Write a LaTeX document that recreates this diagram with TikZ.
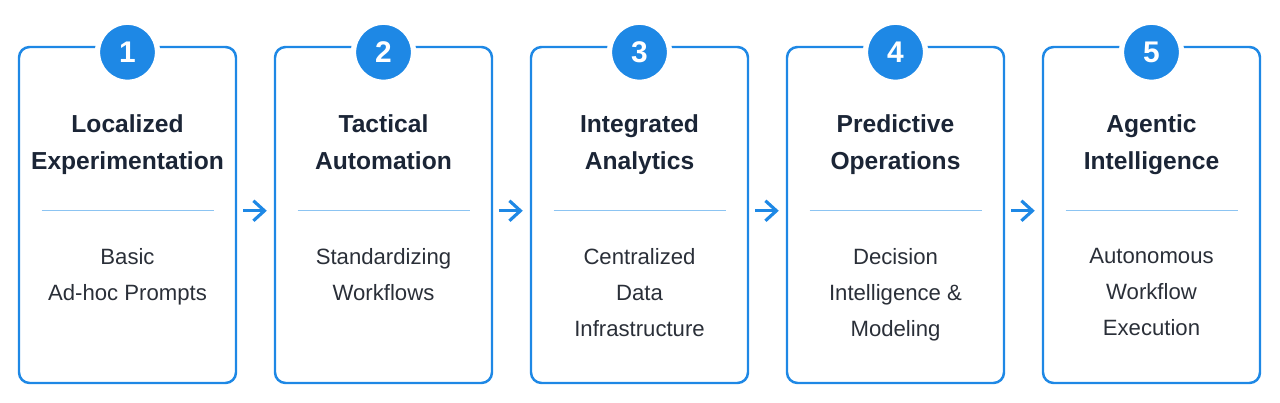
\documentclass[tikz,border=0pt]{standalone}
\usepackage{fontspec}
\setmainfont{Liberation Sans}
\usetikzlibrary{positioning}
\usetikzlibrary{arrows.meta}
\definecolor{stepblue}{HTML}{1E88E5}
\definecolor{lineblue}{HTML}{8CC4F2}
\definecolor{titlenavy}{HTML}{1B2536}
\definecolor{bodygray}{HTML}{2A2F38}
\tikzset{
  Stufe/.style={draw=stepblue, line width=1.4pt, rounded corners=6pt,
    minimum width=4.34cm, minimum height=6.72cm, inner sep=0pt}, % Kasten
  Nummer/.style={circle, fill=stepblue, draw=white, line width=3pt,
    minimum size=1.2cm, text=white, font=\bfseries\fontsize{17}{17}\selectfont},
  Titel/.style={align=center, text=titlenavy, anchor=north, inner sep=0pt,
    font=\bfseries\fontsize{14}{21}\selectfont},
  Text/.style={align=center, text=bodygray, anchor=north, inner sep=0pt,
    font=\fontsize{12.6}{20.5}\selectfont},
  Pfeil/.style={-{Straight Barb[length=2.2mm,width=4mm]}, stepblue, line width=1.8pt}
}
\begin{document}
\begin{tikzpicture}
\useasboundingbox (0,0) rectangle (25.6,8.06);

%Kaesten
\node[Stufe] (K1) at (2.55,3.76) {};
\node[Stufe] (K2) at ([xshift=5.12cm]K1) {};
\node[Stufe] (K3) at ([xshift=5.12cm]K2) {};
\node[Stufe] (K4) at ([xshift=5.12cm]K3) {};
\node[Stufe] (K5) at ([xshift=5.12cm]K4) {};

%Nummern, Titel, Trennlinien
\foreach \k/\titel/\inhalt in {
  1/{Localized\\Experimentation}/{Basic\\Ad-hoc Prompts},
  2/{Tactical\\Automation}/{Standardizing\\Workflows},
  3/{Integrated\\Analytics}/{Centralized\\Data\\Infrastructure},
  4/{Predictive\\Operations}/{Decision\\Intelligence \&\\Modeling},
  5/{Agentic\\Intelligence}/{Autonomous\\Workflow\\Execution}}{%
  \node[Nummer] (N\k) at ([yshift=-0.13cm]K\k.north) {\k};
  \node[Titel] (T\k) at ([yshift=-1.38cm]K\k.north) {\titel};
  \coordinate (L\k) at ([xshift=-1.72cm,yshift=-3.3cm]K\k.north);
  \coordinate (R\k) at ([xshift=1.72cm,yshift=-3.3cm]K\k.north);
  \draw[lineblue, line width=0.8pt] (L\k) -- (R\k);
  \node[Text] (B\k) at ([yshift=-4.05cm]K\k.north) {\inhalt};
}

%Pfeile
\foreach \a/\b in {1/2,2/3,3/4,4/5}
  \draw[Pfeil, shorten <=0.12cm, shorten >=0.14cm] (K\a.east |- R\a) -- (K\b.west |- L\b);
\end{tikzpicture}
\end{document}
